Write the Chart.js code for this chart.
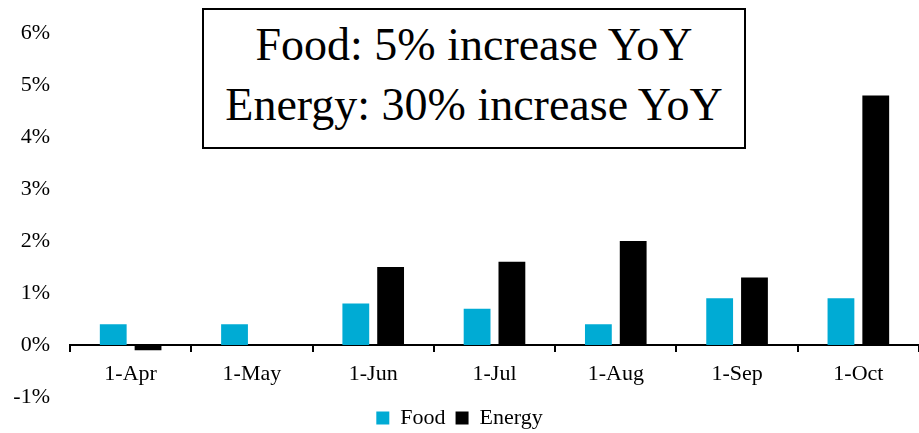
<!DOCTYPE html>
<html>
<head>
<meta charset="utf-8">
<script src="https://cdn.jsdelivr.net/npm/chart.js@4"></script>
<style>
  body { margin: 0; background: #fff; }
  #wrap { position: relative; width: 919px; height: 433px; overflow: hidden; }
  #box { position: relative; width: 919px; height: 439px; }
  #note {
    position: absolute; left: 202px; top: 8px; width: 540px; height: 132px;
    border: 2px solid #000; background: #fff;
    font-family: "Liberation Serif", serif; font-size: 46px; line-height: 60px;
    text-align: center; color: #000; padding-top: 5px; box-sizing: content-box;
  }
</style>
</head>
<body>
<div id="wrap">
  <div id="box"><canvas id="chart"></canvas></div>
  <div id="note">Food: 5% increase YoY<br>Energy: 30% increase YoY</div>
</div>
<script>
const months = ["1-Apr", "1-May", "1-Jun", "1-Jul", "1-Aug", "1-Sep", "1-Oct"];
const food = [0.4, 0.4, 0.8, 0.7, 0.4, 0.9, 0.9];
const energy = [-0.1, 0, 1.5, 1.6, 2.0, 1.3, 4.8];

Chart.defaults.font.family = "Liberation Serif";
Chart.defaults.font.size = 22;
Chart.defaults.color = "#000";

new Chart(document.getElementById("chart"), {
  type: "bar",
  data: {
    labels: months,
    datasets: [
      { label: "Food", data: food, backgroundColor: "#00abd4" },
      { label: "Energy", data: energy, backgroundColor: "#000000" }
    ]
  },
  options: {
    responsive: true,
    maintainAspectRatio: false,
    animation: false,
    categoryPercentage: 0.574,
    barPercentage: 0.77,
    layout: { padding: { top: 28, right: 0, left: 0, bottom: 0 } },
    scales: {
      x: {
        position: { y: 0 },
        grid: { display: true, drawOnChartArea: false, drawTicks: true, tickLength: 6, color: "#000", lineWidth: 2 },
        border: { display: true, color: "#000", width: 2 },
        ticks: { padding: 10 }
      },
      y: {
        min: -1,
        max: 6,
        afterFit: s => { s.width = 70; },
        grid: { display: false, drawTicks: false },
        border: { display: false },
        ticks: {
          stepSize: 1,
          padding: 20,
          callback: v => v + "%"
        }
      }
    },
    plugins: {
      tooltip: { enabled: false },
      legend: {
        position: "bottom",
        labels: {
          boxWidth: 13,
          boxHeight: 13,
          padding: 10,
          font: { size: 22, lineHeight: 1 }
        }
      }
    }
  }
});
</script>
</body>
</html>
